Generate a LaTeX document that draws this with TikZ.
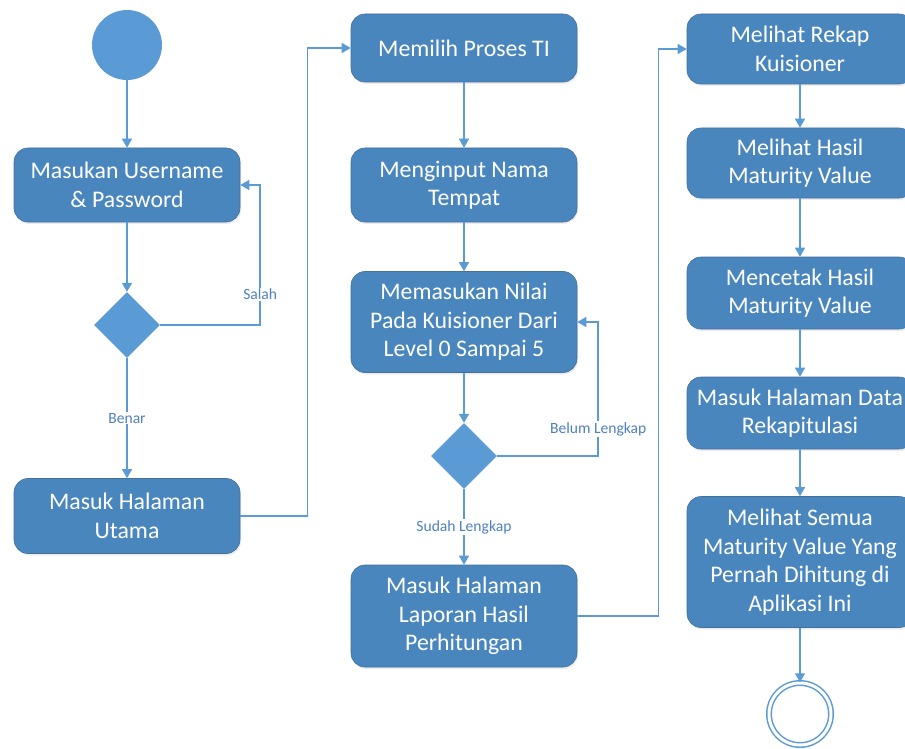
\documentclass[tikz,border=0pt]{standalone}
\usepackage{fontspec}
\setmainfont{Carlito}
\usetikzlibrary{shapes.geometric,arrows.meta,shadows}

\definecolor{boxblue}{HTML}{4A86BE}
\definecolor{edgeblue}{HTML}{41719C}
\definecolor{lineblue}{HTML}{5B9BD5}
\definecolor{lblblue}{HTML}{4F81BD}

\tikzset{
	act/.style={rectangle, rounded corners=14pt, fill=boxblue, draw=edgeblue, line width=0.6pt,
		text=white, minimum width=226pt, inner sep=0pt, align=center,
		font=\fontsize{23.8}{28.5}\selectfont,
		drop shadow={opacity=0.15, shadow xshift=1pt, shadow yshift=-2pt}},
	decision/.style={diamond, fill=lineblue, minimum size=66pt, inner sep=0pt},
	initial/.style={circle, fill=lineblue, minimum size=70pt, inner sep=0pt},
	final/.style={circle, draw=lineblue, line width=1.5pt, double=white, double distance=3pt,
		minimum size=62pt, inner sep=0pt},
	flow/.style={draw=lineblue, line width=1.5pt, -{Triangle[width=10pt,length=9pt]}},
	lbl/.style={fill=white, text=lblblue, inner sep=1pt, font=\fontsize{15.6}{18}\selectfont}
}

\begin{document}
\begin{tikzpicture}[x=1pt,y=-1pt]
	\useasboundingbox (0,0) rectangle (905,749);

	\node[initial] (init) at (127,45) {};
	\node[act, minimum height=74pt] (login) at (127,185) {Masukan Username\\\& Password};
	\node[decision] (cek) at (127,325) {};
	\node[act, minimum height=75pt] (utama) at (127,516) {Masuk Halaman\\Utama};

	\node[act, minimum height=68pt] (proses) at (464,48) {Memilih Proses TI};
	\node[act, minimum height=74pt] (tempat) at (464,185) {Menginput Nama\\Tempat};
	\node[act, minimum height=101pt] (nilai) at (464,322) {Memasukan Nilai\\Pada Kuisioner Dari\\Level 0 Sampai 5};
	\node[decision] (lengkap) at (464,456) {};
	\node[act, minimum height=102pt] (laporan) at (464,616) {Masuk Halaman\\Laporan Hasil\\Perhitungan};

	\node[act, minimum height=70pt] (rekap) at (800,49) {Melihat Rekap\\Kuisioner};
	\node[act, minimum height=70pt] (hasil) at (800,163) {Melihat Hasil\\Maturity Value};
	\node[act, minimum height=72pt] (cetak) at (800,293) {Mencetak Hasil\\Maturity Value};
	\node[act, minimum height=72pt] (data) at (800,413) {Masuk Halaman Data\\Rekapitulasi};
	\node[act, minimum height=131pt] (semua) at (800,562) {Melihat Semua\\Maturity Value Yang\\Pernah Dihitung di\\Aplikasi Ini};
	\node[final] (akhir) at (800,714) {};

	\draw[flow] (init) -- (login);
	\draw[flow] (login) -- (cek);
	\draw[flow] (cek) -- node[lbl] {Benar} (utama);
	\draw[flow] (cek.east) -- ++(100,0) |- node[lbl, pos=0.11] {Salah} (login.east);
	\draw[flow] (utama.east) -- ++(67,0) |- (proses.west);

	\draw[flow] (proses) -- (tempat);
	\draw[flow] (tempat) -- (nilai);
	\draw[flow] (nilai) -- (lengkap);
	\draw[flow] (lengkap.east) -- ++(101,0) |- node[lbl, pos=0.1] {Belum Lengkap} (nilai.east);
	\draw[flow] (lengkap) -- node[lbl] {Sudah Lengkap} (laporan);
	\draw[flow] (laporan.east) -- ++(81,0) |- (rekap.west);

	\draw[flow] (rekap) -- (hasil);
	\draw[flow] (hasil) -- (cetak);
	\draw[flow] (cetak) -- (data);
	\draw[flow] (data) -- (semua);
	\draw[flow] (semua) -- (akhir);
\end{tikzpicture}
\end{document}
